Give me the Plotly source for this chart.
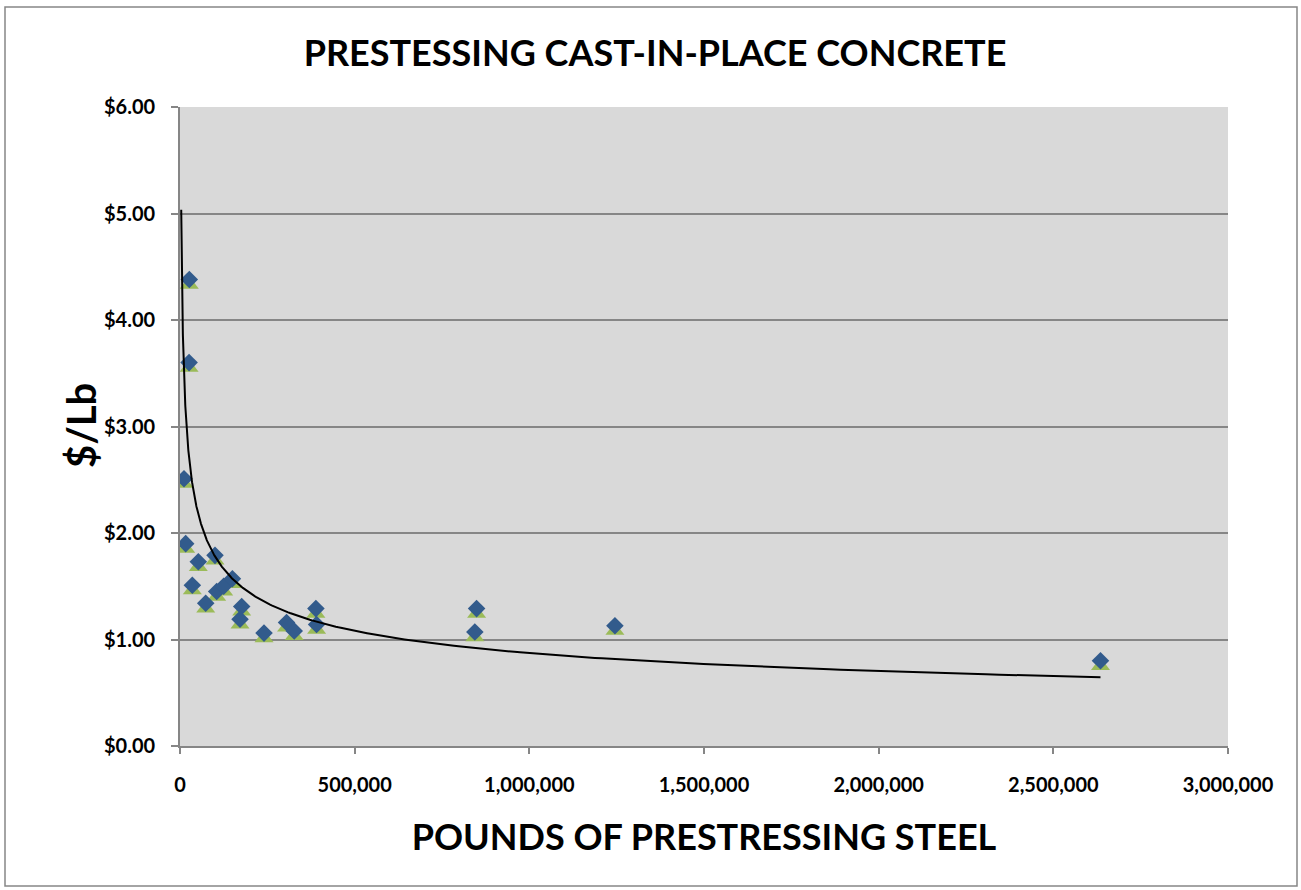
import numpy as np
import plotly.graph_objects as go

# Data
pounds = [26600, 26000, 11500, 16300, 52400, 100200, 35300, 105000, 125000, 150000,
          73600, 176600, 171800, 240500, 305000, 327000, 389000, 391000,
          849000, 844000, 1245000, 2635000]
cost_per_lb = [4.38, 3.60, 2.51, 1.90, 1.73, 1.79, 1.51, 1.45, 1.50, 1.57,
               1.34, 1.31, 1.19, 1.06, 1.16, 1.08, 1.29, 1.14,
               1.29, 1.07, 1.13, 0.80]

# Power trendline (y = a * x^b)
TREND_A = 63.2
TREND_B = -0.31
TREND_X_START = 3500
TREND_X_END = 2635000

x_ticks = [0, 500000, 1000000, 1500000, 2000000, 2500000, 3000000]
x_tick_labels = ["0", "500,000", "1,000,000", "1,500,000", "2,000,000", "2,500,000", "3,000,000"]
y_ticks = [0, 1, 2, 3, 4, 5, 6]
y_tick_labels = ["$0.00", "$1.00", "$2.00", "$3.00", "$4.00", "$5.00", "$6.00"]

FONT = "Lato"
GRID = "#868686"

L, R, T, B = 180, 73, 107, 144
W, H = 1301, 890
pw, ph = W - L - R, H - T - B

# the green triangles sit a few pixels lower than the diamonds
TRI_SHIFT = 5.0 * 6.0 / ph

tx = np.geomspace(TREND_X_START, TREND_X_END, 400)
ty = TREND_A * tx ** TREND_B

fig = go.Figure()
# keeps the main (visible) axes alive
fig.add_trace(go.Scatter(x=[None], y=[None], mode="markers", showlegend=False, hoverinfo="skip"))
fig.add_trace(go.Scatter(x=pounds, y=cost_per_lb, mode="markers", yaxis="y2",
                         marker=dict(symbol="triangle-up", size=16.5, color="#9BBB59"),
                         showlegend=False, hoverinfo="skip"))
fig.add_trace(go.Scatter(x=pounds, y=cost_per_lb, mode="markers", yaxis="y3",
                         marker=dict(symbol="diamond", size=13.5, color="#325B8C"),
                         showlegend=False))
fig.add_trace(go.Scatter(x=tx, y=ty, mode="lines", yaxis="y3",
                         line=dict(color="black", width=2),
                         showlegend=False, hoverinfo="skip"))


def px_x(p):
    return (p - L) / pw


def px_y(p):
    return (H - B - p) / ph


fig.update_layout(
    width=W, height=H,
    margin=dict(l=L, r=R, t=T, b=B),
    paper_bgcolor="white",
    plot_bgcolor="#D9D9D9",
    font=dict(family=FONT, color="black"),
    title=dict(text="<b>PRESTESSING CAST-IN-PLACE CONCRETE</b>",
               x=px_x(655), xanchor="center", xref="paper", y=1 - 53 / H, yanchor="middle",
               font=dict(size=36, family=FONT, color="black")),
    xaxis=dict(range=[0, 3000000], tickvals=x_ticks, ticktext=["<b>%s</b>" % t for t in x_tick_labels],
               tickfont=dict(size=20, family=FONT), showgrid=False, zeroline=False,
               showline=True, linecolor=GRID, linewidth=1.5,
               ticks="outside", ticklen=6, tickcolor=GRID, tickwidth=1.5,
               ticklabelstandoff=14,
               title=dict(text="<b>POUNDS OF PRESTRESSING STEEL</b>",
                          font=dict(size=36, family=FONT), standoff=30)),
    yaxis=dict(range=[0, 6], tickvals=y_ticks, ticktext=["<b>%s</b>" % t for t in y_tick_labels],
               tickfont=dict(size=20, family=FONT), showgrid=True, gridcolor=GRID, gridwidth=1.8,
               zeroline=False, showline=True, linecolor=GRID, linewidth=1.8,
               ticks="outside", ticklen=7, tickcolor=GRID, tickwidth=1.5,
               ticklabelstandoff=12),
    yaxis2=dict(range=[TRI_SHIFT, 6 + TRI_SHIFT], overlaying="y", visible=False),
    yaxis3=dict(range=[0, 6], overlaying="y", visible=False),
    annotations=[dict(text="<b>$/Lb</b>", textangle=-90, showarrow=False,
                      xref="paper", yref="paper", x=px_x(81), y=px_y(426),
                      xanchor="center", yanchor="middle",
                      font=dict(size=40, family=FONT, color="black"))],
    shapes=[dict(type="rect", xref="paper", yref="paper",
                 x0=px_x(5), x1=px_x(1297), y0=px_y(886), y1=px_y(7),
                 line=dict(color="#868686", width=1.5), fillcolor="rgba(0,0,0,0)", layer="below")],
)

fig.write_html("out.html", config={"displayModeBar": False},
               post_script="document.body.style.margin='0px';")
